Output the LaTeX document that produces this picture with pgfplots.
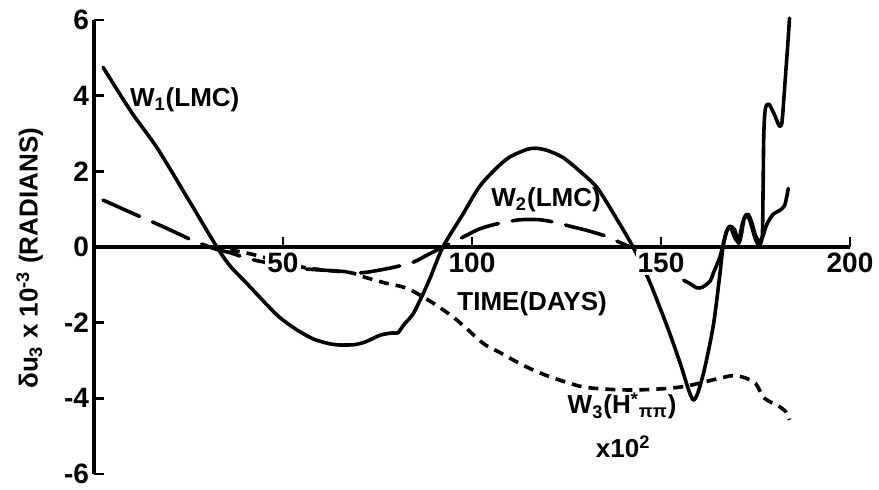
\documentclass[border=0pt]{standalone}
\usepackage{fontspec}
\setmainfont{Liberation Sans}
\usepackage{pgfplots}
\pgfplotsset{compat=1.18}
\newcommand\lf{\fontsize{13}{15}\selectfont\bfseries}
\newcommand\tf{\fontsize{14}{16}\selectfont\bfseries}
\begin{document}
\begin{tikzpicture}
\useasboundingbox (-47pt,-7.5pt) rectangle (392.5pt,237pt);
\begin{axis}[
 at={(0pt,0pt)}, anchor=south west,
 scale only axis, width=378pt, height=227pt,
 xmin=0,xmax=200,ymin=-6,ymax=6,
 axis lines=middle, axis on top,
 axis line style={-, line width=1.6pt, black},
 xtick={50,100,150,200}, xticklabels={50,100,150,200},
 ytick={-6,-4,-2,0,2,4,6}, yticklabels={-6,-4,-2,0,2,4,6},
 tick align=inside, major tick length=5pt,
 tick style={line width=1.2pt, black},
 ticklabel style={font=\tf},
 xticklabel style={anchor=north, inner sep=1pt, fill=white, yshift=-2pt},
 yticklabel style={anchor=east, inner sep=0pt, xshift=-2.3pt},
 clip=false,
 hide obscured x ticks=false, hide obscured y ticks=false,
]
% W1 (LMC), solid
\addplot[black, line width=1.8pt, smooth, tension=0.45, line join=round, line cap=round] coordinates {
(2.4,4.75)(10,3.55)(16.7,2.62)(25,1.25)(32.5,0)(36,-0.5)(40.5,-0.97)(45,-1.45)(49,-1.85)(53.5,-2.18)(58,-2.43)(62,-2.55)(65,-2.59)(69,-2.58)(72,-2.5)(75.7,-2.33)(79,-2.27)(80.4,-2.27)(82,-2.05)(84.4,-1.77)(87,-1.25)(89,-0.8)(92.3,0)(97.6,0.87)(102,1.6)(106.6,2.1)(110,2.38)(114.5,2.58)(117,2.61)(120,2.55)(124,2.37)(128,2.05)(133,1.58)(138,0.79)(142.6,0)(147,-0.92)(152,-2.2)(155,-3.05)(158.5,-4.04)(161,-3.43)(163.8,-2.1)(165.6,-0.7)(166.4,0)(167.5,0.45)(168.5,0.5)(169.5,0.25)(170.5,0.15)(171.5,0.6)(172.5,0.85)(173.5,0.7)(175,0.2)(176,0.05)(176.8,0.3)(177,1.5)(177.2,3.0)(177.6,3.65)(178.5,3.78)(180,3.5)(181.3,3.2)(182,3.3)(182.7,4.2)(183.5,5.3)(184,6.05)
};
% W2 (LMC), long dashes
\addplot[black, line width=1.8pt, smooth, tension=0.45, dash pattern=on 20pt off 7pt, line cap=round] coordinates {
(2.4,1.24)(10,0.9)(18,0.55)(26,0.18)(32,-0.05)(36,-0.15)(40.5,-0.3)(45,-0.4)(50,-0.5)(56,-0.58)(62,-0.62)(68,-0.66)(71,-0.68)(75,-0.62)(80,-0.52)(84.5,-0.4)(88,-0.22)(92.3,0)(97.6,0.26)(102,0.48)(107,0.62)(112.7,0.72)(118,0.72)(122,0.65)(126.7,0.53)(130,0.45)(134.7,0.31)(138,0.17)(141.8,0)
};
% W2 continuation, solid
\addplot[black, line width=1.8pt, smooth, tension=0.45, line join=round, line cap=round] coordinates {
(156,-0.88)(157.7,-0.97)(159.5,-1.08)(161,-1.06)(163,-0.9)(163.8,-0.7)(165.6,-0.26)(166.5,0.1)(167.3,0.4)(168.2,0.55)(169.5,0.45)(170.5,0.1)(171.2,0.3)(172,0.75)(173,0.87)(174,0.65)(175,0.3)(176,0.15)(177,0.3)(178,0.6)(179.7,0.87)(181.5,0.97)(182.7,1.1)(183.3,1.35)(183.7,1.55)
};
% W3 (H*pipi) x 10^2, short dashes
\addplot[black, line width=1.8pt, smooth, tension=0.45, dash pattern=on 5pt off 3.5pt] coordinates {
(0,0)(10,0)(20,0)(30,0)(34,-0.05)(40,-0.15)(46,-0.3)(52,-0.45)(56,-0.55)(62,-0.62)(68,-0.68)(71,-0.78)(77,-0.95)(83,-1.1)(90,-1.5)(96,-1.93)(103,-2.55)(107,-2.77)(114,-3.15)(120.6,-3.43)(129,-3.69)(136,-3.76)(142.6,-3.78)(150,-3.75)(156,-3.69)(161,-3.58)(165,-3.48)(169,-3.4)(172,-3.45)(175,-3.6)(177,-3.96)(179,-4.1)(180.6,-4.17)(183,-4.35)(184,-4.57)
};
\node[font=\lf] at (axis cs:24,3.9) {W\textsubscript{1}(LMC)};
\node[font=\lf] at (axis cs:119.6,1.25) {W\textsubscript{2}(LMC)};
\node[font=\lf] at (axis cs:115.9,-1.5) {TIME(DAYS)};
\node[font=\lf] at (axis cs:139.7,-4.2) {W\textsubscript{3}(H\textsuperscript{*}\textsubscript{ππ})};
\node[font=\lf] at (axis cs:140,-5.28) {x10\textsuperscript{2}};
\node[font=\lf, rotate=90] at (axis cs:-17,-0.3) {δu\textsubscript{3} x 10\textsuperscript{-3} (RADIANS)};
\end{axis}
\end{tikzpicture}
\end{document}
